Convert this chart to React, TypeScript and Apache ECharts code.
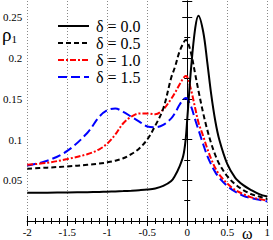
import React, { useEffect, useRef } from "react";
import * as echarts from "echarts";

const omega = [-2, -1.75, -1.5, -1.25, -1.1, -1, -0.9, -0.8, -0.7, -0.6, -0.5, -0.4, -0.3, -0.2, -0.15, -0.1, -0.05, -0.02, 0, 0.05, 0.1, 0.14, 0.2, 0.25, 0.3, 0.35, 0.4, 0.5, 0.6, 0.7, 0.8, 0.9, 1.0];

const rhoDelta00 = [0.0347, 0.0348, 0.035, 0.0354, 0.0357, 0.036, 0.0363, 0.0367, 0.0372, 0.0378, 0.0386, 0.040, 0.043, 0.049, 0.056, 0.066, 0.080, 0.100, 0.125, 0.19, 0.237, 0.252, 0.232, 0.195, 0.155, 0.123, 0.10, 0.070, 0.053, 0.044, 0.038, 0.033, 0.030];
const rhoDelta05 = [0.064, 0.0655, 0.067, 0.069, 0.0705, 0.072, 0.074, 0.077, 0.082, 0.089, 0.10, 0.117, 0.138, 0.176, 0.19, 0.207, 0.218, 0.222, 0.221, 0.205, 0.18, 0.16, 0.132, 0.112, 0.095, 0.081, 0.07, 0.055, 0.045, 0.038, 0.033, 0.030, 0.027];
const rhoDelta10 = [0.069, 0.0715, 0.076, 0.082, 0.088, 0.095, 0.106, 0.12, 0.128, 0.132, 0.132, 0.131, 0.137, 0.150, 0.158, 0.167, 0.175, 0.178, 0.177, 0.160, 0.138, 0.121, 0.104, 0.089, 0.076, 0.065, 0.057, 0.046, 0.038, 0.033, 0.029, 0.027, 0.025];
const rhoDelta15 = [0.068, 0.074, 0.086, 0.108, 0.128, 0.136, 0.138, 0.134, 0.128, 0.122, 0.116, 0.115, 0.118, 0.126, 0.133, 0.142, 0.149, 0.151, 0.150, 0.140, 0.124, 0.112, 0.094, 0.080, 0.069, 0.060, 0.053, 0.043, 0.036, 0.031, 0.028, 0.026, 0.024];

const seriesNames = ["δ = 0.0", "δ = 0.5", "δ = 1.0", "δ = 1.5"];
const seriesValues = [rhoDelta00, rhoDelta05, rhoDelta10, rhoDelta15];
const seriesColors = ["#000000", "#000000", "#ff0000", "#0000ff"];
const seriesDash: any[] = ["solid", [5, 3], [6, 2, 2, 2], [9, 4]];

const SERIF = "serif";

export default function App() {
  const ref = useRef<HTMLDivElement>(null);
  useEffect(() => {
    if (!ref.current) return;
    const chart = echarts.init(ref.current, undefined, { renderer: "svg" });
    const axisCommon = {
      type: "value" as const,
      axisLine: { show: true, lineStyle: { color: "#000", width: 1 } },
      axisTick: { show: true, inside: true, length: 5, lineStyle: { color: "#000" } },
    };
    chart.setOption({
      animation: false,
      backgroundColor: "#fff",
      textStyle: { fontFamily: SERIF },
      grid: { left: 27, right: 4, top: 1, bottom: 19 },
      legend: {
        orient: "vertical",
        left: 57,
        top: 18,
        padding: 0,
        itemWidth: 31,
        itemHeight: 14,
        itemGap: 1,
        data: seriesNames,
        itemStyle: { opacity: 0 },
        textStyle: { fontFamily: SERIF, fontSize: 16, lineHeight: 16, color: "#000", padding: [0, 0, 0, 2] },
      },
      xAxis: [
        {
          ...axisCommon,
          min: -2,
          max: 1,
          interval: 0.5,
          minorTick: { show: true, splitNumber: 5, length: 3, lineStyle: { color: "#000" } },
          axisLabel: { fontFamily: SERIF, fontSize: 11, color: "#000", margin: 5 },
          splitLine: { show: true, lineStyle: { color: "#888", type: [1, 2], width: 1 } },
        },
        {
          ...axisCommon,
          position: "top",
          min: -2,
          max: 1,
          interval: 0.5,
          minorTick: { show: true, splitNumber: 5, length: 3, lineStyle: { color: "#000" } },
          axisLabel: { show: false },
          splitLine: { show: false },
        },
      ],
      yAxis: [
        {
          ...axisCommon,
          min: 0,
          max: 0.27,
          interval: 0.05,
          minorTick: { show: true, splitNumber: 2, length: 3, lineStyle: { color: "#000" } },
          axisLabel: {
            fontFamily: SERIF,
            fontSize: 11,
            color: "#000",
            margin: 5,
            showMinLabel: false,
            showMaxLabel: false,
            formatter: (v: number) => (v === 0 || v > 0.26 ? "" : String(Math.round(v * 100) / 100)),
          },
          splitLine: { show: false },
        },
        {
          ...axisCommon,
          position: "right",
          min: 0,
          max: 0.27,
          interval: 0.05,
          minorTick: { show: true, splitNumber: 2, length: 3, lineStyle: { color: "#000" } },
          axisLabel: { show: false },
          splitLine: { show: false },
        },
      ],
      series: seriesNames.map((name, i) => ({
        name,
        type: "line",
        xAxisIndex: 0,
        yAxisIndex: 0,
        data: omega.map((w, j) => [w, seriesValues[i][j]]),
        symbol: "none",
        smooth: 0.35,
        lineStyle: { color: seriesColors[i], width: 2, type: seriesDash[i] },
        itemStyle: { color: seriesColors[i] },
        z: 10 - i,
      })),
      graphic: [
        {
          type: "text",
          left: 2,
          top: 25,
          style: {
            text: "{a|ρ}{b|1}",
            rich: {
              a: { fontFamily: SERIF, fontSize: 19, lineHeight: 14, fill: "#000" },
              b: { fontFamily: SERIF, fontSize: 11, lineHeight: 14, fill: "#000", padding: [8, 0, 0, 0] },
            },
          },
        },
        {
          type: "text",
          left: 242,
          top: 225,
          style: { text: "ω", fontFamily: SERIF, fontSize: 16, fill: "#000" },
        },
      ],
    });
    return () => chart.dispose();
  }, []);
  return (
    <div
      ref={ref}
      style={{ position: "fixed", left: 0, top: 0, width: 273, height: 240, background: "#fff" }}
    />
  );
}
